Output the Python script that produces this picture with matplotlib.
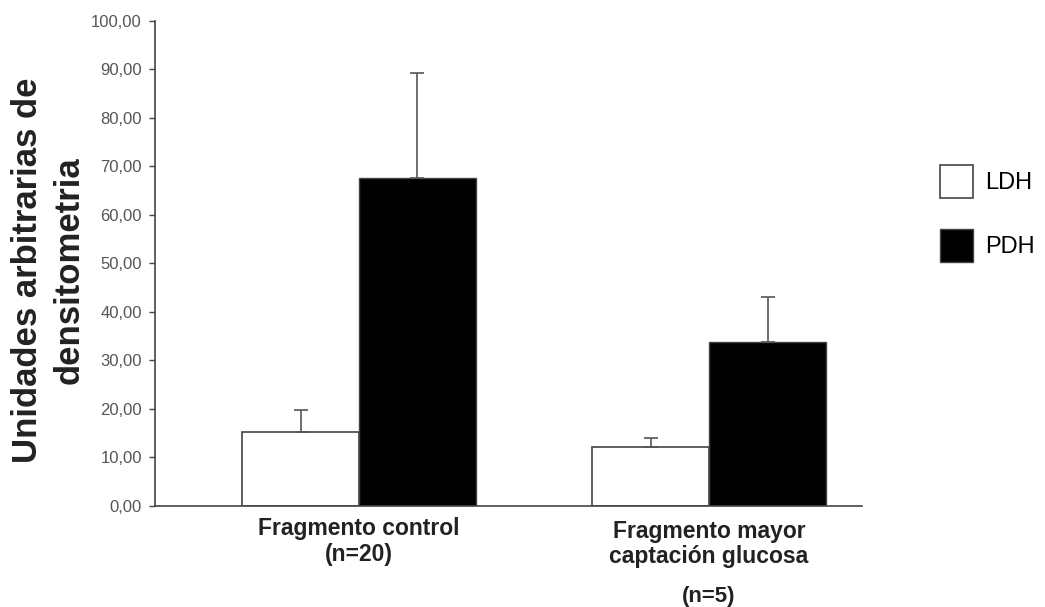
import matplotlib
matplotlib.use("Agg")
import matplotlib.pyplot as plt
import numpy as np
from matplotlib.patches import Patch

plt.rcParams['font.family'] = ['Liberation Sans', 'DejaVu Sans']

groups = ["Fragmento control\n(n=20)", "Fragmento mayor\ncaptación glucosa\n\n(n=5)"]
series = ["LDH", "PDH"]
ldh = [15.2, 12.1]
ldh_err = [4.5, 1.9]
pdh = [67.5, 33.7]
pdh_err = [21.8, 9.3]
yticks = [0, 10, 20, 30, 40, 50, 60, 70, 80, 90, 100]
ytick_labels = ["0,00", "10,00", "20,00", "30,00", "40,00", "50,00", "60,00", "70,00", "80,00", "90,00", "100,00"]

fig = plt.figure(figsize=(10.45, 6.07), dpi=100)
ax = fig.add_axes([0.1483, 0.1664, 0.8249 - 0.1483, 0.9659 - 0.1664])

x = np.arange(len(groups))
w = 0.334
edge = '#444444'
ax.bar(x - w/2, ldh, w, color='white', edgecolor=edge, linewidth=1.2,
       yerr=[np.zeros(len(ldh)), ldh_err], ecolor='#555555',
       error_kw=dict(capsize=5, elinewidth=1.2, capthick=1.2), label=series[0])
ax.bar(x + w/2, pdh, w, color='black', edgecolor=edge, linewidth=1.0,
       yerr=[np.zeros(len(pdh)), pdh_err], ecolor='#555555',
       error_kw=dict(capsize=5, elinewidth=1.2, capthick=1.2), label=series[1])

ax.set_xlim(-0.583, 1.437)
ax.set_ylim(0, 100)
ax.set_yticks(yticks)
ax.set_yticklabels(ytick_labels, fontsize=12, color='#555555')
ax.tick_params(axis='y', direction='out', length=4.5, color='#444444', width=1, pad=5)
ax.set_xticks([])
for s in ['top', 'right']:
    ax.spines[s].set_visible(False)
for s in ['left', 'bottom']:
    ax.spines[s].set_color('#444444')
    ax.spines[s].set_linewidth(1.2)

# group labels
ax.text(0, -2.3, groups[0], ha='center', va='top', fontsize=16.5, fontweight='bold',
        color='#222222', linespacing=1.15)
g2 = groups[1].split("\n\n")
ax.text(1, -2.9, g2[0], ha='center', va='top', fontsize=16.5, fontweight='bold',
        color='#222222', linespacing=1.12)
ax.text(1, -16.4, g2[1], ha='center', va='top', fontsize=16, fontweight='bold',
        color='#222222')

fig.text(0.046, 0.555, "Unidades arbitrarias de\ndensitometria", rotation=90,
         ha='center', va='center', fontsize=25, fontweight='bold', color='#222222',
         linespacing=1.33)

handles = [Patch(facecolor='white', edgecolor='#444444', linewidth=1.2),
           Patch(facecolor='black', edgecolor='#444444', linewidth=1.0)]
fig.legend(handles, series, loc='upper left', bbox_to_anchor=(0.8995, 0.728),
           frameon=False, fontsize=17, handlelength=1.40, handleheight=1.77,
           labelspacing=1.31, handletextpad=0.5, borderpad=0, borderaxespad=0)

fig.savefig("out.png", dpi=100, facecolor='white')
